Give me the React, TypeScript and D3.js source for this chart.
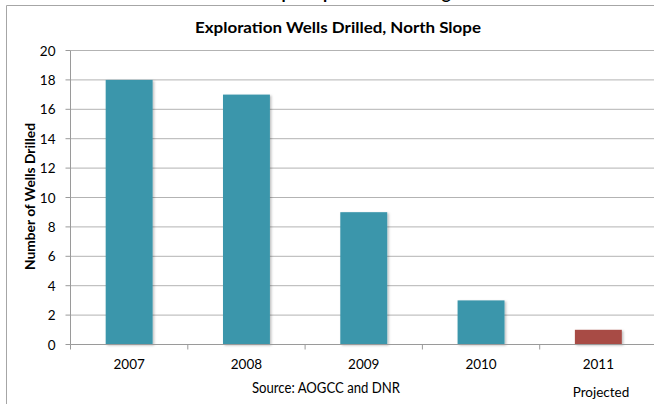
import React from "react";
import * as d3 from "d3";

const categories = ["2007", "2008", "2009", "2010", "2011"];
const wells = [18, 17, 9, 3, 1];
const projected = [false, false, false, false, true];
const yTicks = [0, 2, 4, 6, 8, 10, 12, 14, 16, 18, 20];

const W = 654;
const H = 404;
const FONT = "Lato, 'Open Sans', sans-serif";

export default function App() {
  const left = 70.5;
  const right = 657;
  const top = 50.5;
  const bottom = 344.5;
  const x = d3.scaleBand<string>().domain(categories).range([left, right]).paddingInner(0.6).paddingOuter(0.3);
  const xb = d3.scaleBand<string>().domain(categories).range([left, right]);
  const y = d3.scaleLinear().domain([0, 20]).range([bottom, top]);

  return (
    <svg width={W} height={H} style={{ position: "absolute", left: 0, top: 0, background: "#fff" }}>
      <defs>
        <filter id="sh" x="-10%" y="-10%" width="130%" height="130%">
          <feDropShadow dx="1.5" dy="1" stdDeviation="0.8" floodColor="#000" floodOpacity="0.25" />
        </filter>
      </defs>
      <rect x={0} y={0} width={W} height={H} fill="#fff" />
      <text x={330} y={-1} textAnchor="middle" fontFamily={FONT} fontWeight="bold" fontSize={17} fill="#000">
        North Slope Exploration Drilling
      </text>
      {/* border */}
      <line x1={6.5} y1={5.5} x2={W} y2={5.5} stroke="#a6a6a6" />
      <line x1={6.5} y1={5.5} x2={6.5} y2={H} stroke="#a6a6a6" />

      <text
        x={338}
        y={33}
        textAnchor="middle"
        fontFamily={FONT}
        fontWeight="bold"
        fontSize={15.5}
        textLength={286}
        lengthAdjust="spacingAndGlyphs"
        fill="#000"
      >
        Exploration Wells Drilled, North Slope
      </text>

      {/* grid */}
      {yTicks.map((t) => (
        <g key={t}>
          {t > 0 && <line x1={left} x2={W} y1={y(t)} y2={y(t)} stroke="#b3b3b3" />}
          <line x1={left - 5} x2={left} y1={y(t)} y2={y(t)} stroke="#9a9a9a" />
          <text x={55.5} y={y(t) + 5} textAnchor="end" fontFamily={FONT} fontSize={13.5} fill="#000">
            {t}
          </text>
        </g>
      ))}
      <line x1={left} x2={left} y1={top} y2={bottom} stroke="#9a9a9a" />

      {/* bars */}
      {categories.map((c, i) => (
        <rect
          key={c}
          x={x(c)}
          y={y(wells[i])}
          width={x.bandwidth()}
          height={y(0) - y(wells[i])}
          fill={projected[i] ? "#a84b45" : "#3a96ab"}
          filter="url(#sh)"
        />
      ))}

      {/* x axis */}
      <line x1={left} x2={W} y1={bottom} y2={bottom} stroke="#9a9a9a" />
      {categories.map((c) => (
        <line key={c} x1={xb(c)!} x2={xb(c)!} y1={bottom} y2={bottom + 5} stroke="#9a9a9a" />
      ))}
      {categories.map((c) => (
        <text key={c} x={xb(c)! + xb.bandwidth() / 2} y={368.5} textAnchor="middle" fontFamily={FONT} fontSize={13.5} fill="#000">
          {c}
        </text>
      ))}

      <text
        transform={`translate(35, 196.5) rotate(-90)`}
        textAnchor="middle"
        fontFamily={FONT}
        fontWeight="bold"
        fontSize={13.5}
        textLength={147}
        lengthAdjust="spacingAndGlyphs"
        fill="#000"
      >
        Number of Wells Drilled
      </text>

      <text
        x={326}
        y={392.5}
        textAnchor="middle"
        fontFamily={FONT}
        fontSize={14.5}
        textLength={148}
        lengthAdjust="spacingAndGlyphs"
        fill="#000"
      >
        Source: AOGCC and DNR
      </text>
      <text x={601} y={396.5} textAnchor="middle" fontFamily={FONT} fontSize={13.5} fill="#000">
        Projected
      </text>
    </svg>
  );
}
